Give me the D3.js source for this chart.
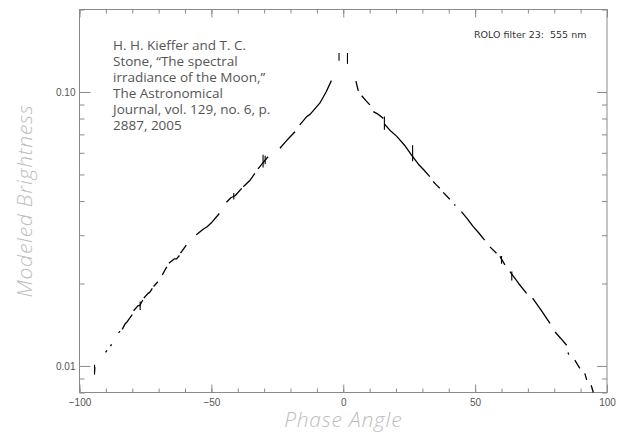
<!DOCTYPE html>
<html>
<head>
<meta charset="utf-8">
<script src="https://cdn.jsdelivr.net/npm/d3@7"></script>
<style>
  html, body { margin: 0; padding: 0; background: #fff; }
  svg { display: block; }
</style>
</head>
<body>
<div id="chart"></div>
<script>
// A null breaks the trace (gaps between observation runs).
var phase = [
  -94.3, -94.2, null,
  -90.1, -89.6, null,
  -88.2, -87.9, null,
  -85.2, -84.6, null,
  -83.8, -82.6, -81.9, -80.0, null,
  -79.5, -77.8, -77.2, -76.0, null,
  -75.6, -74.0, -73.3, -72.4, null,
  -71.9, -70.3, null,
  -68.6, -67.8, -66.9, null,
  -66.1, -64.0, -63.2, -62.1, null,
  -61.7, -59.5, null,
  -55.7, -53.0, -51.6, -50.0, -47.0, null,
  -44.3, -42.5, -41.0, -38.5, null,
  -37.9, -35.6, -33.5, null,
  -32.3, -30.4, -28.5, null,
  -24.0, -22.0, -20.4, -18.3, null,
  -16.5, -14.0, -12.5, -8.9, -6.5, -4.5, null,
  4.8, 5.7, null,
  7.0, 8.6, 10.1, null,
  11.4, 13.2, 15.2, null,
  15.6, 18.0, 20.2, 23.5, 25.9, 28.5, 30.5, 32.8, null,
  34.1, 35.3, 36.6, null,
  37.9, 40.4, null,
  42.1, 42.5, null,
  44.8, 47.0, 49.2, 51.5, 53.6, null,
  55.6, 58.1, null,
  59.4, 61.3, null,
  63.2, 66.5, 69.5, null,
  71.8, 75.0, 78.4, null,
  80.3, 82.5, 84.7, null,
  85.2, 85.5, null,
  87.8, 89.7, null,
  91.6, 92.3, null,
  94.0, 94.8
];
var brightness = [
  0.0095, 0.0099, null,
  0.0112, 0.0114, null,
  0.0118, 0.0120, null,
  0.0132, 0.0134, null,
  0.0136, 0.0143, 0.0145, 0.0154, null,
  0.0159, 0.0166, 0.0166, 0.0174, null,
  0.0177, 0.0184, 0.0186, 0.0192, null,
  0.0195, 0.0203, null,
  0.0215, 0.0222, 0.0230, null,
  0.0237, 0.0246, 0.0246, 0.0253, null,
  0.0258, 0.0276, null,
  0.0301, 0.0316, 0.0322, 0.0333, 0.0360, null,
  0.0396, 0.0412, 0.0418, 0.0445, null,
  0.0451, 0.0473, 0.0505, null,
  0.0524, 0.0552, 0.0580, null,
  0.0623, 0.0656, 0.0682, 0.0716, null,
  0.0758, 0.0810, 0.0830, 0.0910, 0.1000, 0.1100, null,
  0.1095, 0.1010, null,
  0.0969, 0.0930, 0.0897, null,
  0.0848, 0.0830, 0.0801, null,
  0.0764, 0.0720, 0.0690, 0.0635, 0.0588, 0.0545, 0.0520, 0.0491, null,
  0.0471, 0.0458, 0.0445, null,
  0.0430, 0.0406, null,
  0.0389, 0.0385, null,
  0.0366, 0.0345, 0.0323, 0.0305, 0.0288, null,
  0.0272, 0.0258, null,
  0.0251, 0.0234, null,
  0.0221, 0.0200, 0.0184, null,
  0.0177, 0.0160, 0.0143, null,
  0.0133, 0.0126, 0.0119, null,
  0.0112, 0.0110, null,
  0.0105, 0.0098, null,
  0.0094, 0.0089, null,
  0.0085, 0.0080
];

// Short vertical excursions (outlier measurements)
var spikePhase = [-94.3, -1.6, 1.6, 15.6, 26.3, 60.0, 63.9, -30.4, -29.6, -77.0, -41.5];
var spikeLow   = [0.0093, 0.1300, 0.1267, 0.0728, 0.0559, 0.0236, 0.0205, 0.0530, 0.0545, 0.0160, 0.0405];
var spikeHigh  = [0.0101, 0.1387, 0.1387, 0.0813, 0.0639, 0.0252, 0.0221, 0.0590, 0.0585, 0.0172, 0.0428];

var xMajor = [-100, -50, 0, 50, 100];
var xMinor = d3.range(-100, 101, 10);
var yMajor = [0.01, 0.10];
var yMinor = [0.008, 0.009, 0.02, 0.03, 0.04, 0.05, 0.06, 0.07, 0.08, 0.09, 0.2];

var width = 619, height = 432;
var plotLeft = 79.5, plotRight = 607, plotTop = 9.5, plotBottom = 392.5;

var svg = d3.select('#chart').append('svg')
  .attr('width', width)
  .attr('height', height);

var x = d3.scaleLinear().domain([-100, 100]).range([plotLeft, plotRight]);
var y = d3.scaleLog().domain([0.008, 0.2]).range([plotBottom, plotTop]);

var frameColor = '#8a8a8a';
var tickFont = '"Liberation Sans", Arial, sans-serif';

function styleAxis(g) {
  g.select('.domain').remove();
  g.selectAll('.tick line').attr('stroke', frameColor).attr('stroke-width', 1);
  g.selectAll('.tick text')
    .attr('fill', '#555')
    .style('font-family', tickFont)
    .style('font-size', '10px');
}

// frame
svg.append('rect')
  .attr('x', plotLeft).attr('y', plotTop)
  .attr('width', plotRight - plotLeft).attr('height', plotBottom - plotTop)
  .attr('fill', 'none').attr('stroke', frameColor).attr('stroke-width', 1);

// bottom axis
svg.append('g').attr('transform', 'translate(0,' + plotBottom + ')')
  .call(d3.axisBottom(x).tickValues(xMinor).tickSize(-4).tickFormat(''))
  .call(styleAxis);
svg.append('g').attr('transform', 'translate(0,' + plotBottom + ')')
  .call(d3.axisBottom(x).tickValues(xMajor).tickSize(-8).tickPadding(6)
    .tickFormat(function (d) { return d < 0 ? '\u2212' + Math.abs(d) : d; }))
  .call(styleAxis);

// top axis (mirror)
svg.append('g').attr('transform', 'translate(0,' + plotTop + ')')
  .call(d3.axisTop(x).tickValues(xMinor).tickSize(-4).tickFormat(''))
  .call(styleAxis);
svg.append('g').attr('transform', 'translate(0,' + plotTop + ')')
  .call(d3.axisTop(x).tickValues(xMajor).tickSize(-8).tickFormat(''))
  .call(styleAxis);

// left axis
svg.append('g').attr('transform', 'translate(' + plotLeft + ',0)')
  .call(d3.axisLeft(y).tickValues(yMinor).tickSize(-5).tickFormat(''))
  .call(styleAxis);
svg.append('g').attr('transform', 'translate(' + plotLeft + ',0)')
  .call(d3.axisLeft(y).tickValues(yMajor).tickSize(-11).tickPadding(4)
    .tickFormat(d3.format('.2f')))
  .call(styleAxis);

// right axis (mirror)
svg.append('g').attr('transform', 'translate(' + plotRight + ',0)')
  .call(d3.axisRight(y).tickValues(yMinor).tickSize(-5).tickFormat(''))
  .call(styleAxis);
svg.append('g').attr('transform', 'translate(' + plotRight + ',0)')
  .call(d3.axisRight(y).tickValues(yMajor).tickSize(-10).tickFormat(''))
  .call(styleAxis);

// data trace
var pts = phase.map(function (p, i) { return [p, brightness[i]]; });
var line = d3.line()
  .defined(function (d) { return d[0] !== null && d[1] !== null; })
  .x(function (d) { return x(d[0]); })
  .y(function (d) { return y(d[1]); });

svg.append('path')
  .datum(pts)
  .attr('d', line)
  .attr('fill', 'none')
  .attr('stroke', '#000')
  .attr('stroke-width', 1.3)
  .attr('stroke-linejoin', 'round');

svg.selectAll('line.spike')
  .data(spikePhase)
  .enter()
  .append('line')
  .attr('class', 'spike')
  .attr('x1', function (d) { return x(d); })
  .attr('x2', function (d) { return x(d); })
  .attr('y1', function (d, i) { return y(spikeLow[i]); })
  .attr('y2', function (d, i) { return y(spikeHigh[i]); })
  .attr('stroke', '#000')
  .attr('stroke-width', 1.1);

// filter label, top right
svg.append('text')
  .attr('x', 474).attr('y', 38)
  .attr('fill', '#333')
  .style('font-family', '"DejaVu Sans", sans-serif')
  .style('font-size', '9.5px')
  .attr('xml:space', 'preserve')
  .text('ROLO filter 23:  555 nm');

// citation
var citation = [
  'H. H. Kieffer and T. C.',
  'Stone, \u201CThe spectral',
  'irradiance of the Moon,\u201D',
  'The Astronomical',
  'Journal, vol. 129, no. 6, p.',
  '2887, 2005'
];
svg.append('g').selectAll('text')
  .data(citation)
  .enter()
  .append('text')
  .attr('x', 113)
  .attr('y', function (d, i) { return 50 + i * 16; })
  .attr('fill', '#555')
  .style('font-family', '"Open Sans", sans-serif')
  .style('font-size', '13.5px')
  .text(function (d) { return d; });

// axis titles
svg.append('text')
  .attr('transform', 'translate(32,' + ((plotTop + plotBottom) / 2) + ') rotate(-90)')
  .attr('text-anchor', 'middle')
  .attr('fill', '#bdbdbd')
  .style('font-family', '"Open Sans", sans-serif')
  .style('font-style', 'italic')
  .style('font-weight', 300)
  .style('font-size', '21px')
  .style('letter-spacing', '0.8px')
  .text('Modeled Brightness');

svg.append('text')
  .attr('x', x(0))
  .attr('y', 427)
  .attr('text-anchor', 'middle')
  .attr('fill', '#bdbdbd')
  .style('font-family', '"Open Sans", sans-serif')
  .style('font-style', 'italic')
  .style('font-weight', 300)
  .style('font-size', '21px')
  .style('letter-spacing', '0.8px')
  .text('Phase Angle');
</script>
</body>
</html>
